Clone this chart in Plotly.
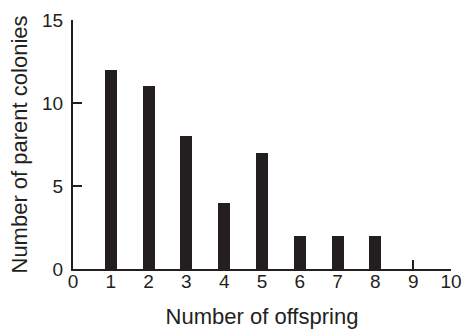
import plotly.graph_objects as go

offspring = [1, 2, 3, 4, 5, 6, 7, 8]
colonies = [12, 11, 8, 4, 7, 2, 2, 2]
x_ticks = [0, 1, 2, 3, 4, 5, 6, 7, 8, 9, 10]
y_ticks = [0, 5, 10, 15]

ink = "#231f20"
font = "Liberation Sans, Arial, sans-serif"

fig = go.Figure(go.Bar(x=offspring, y=colonies, width=0.32, marker=dict(color=ink, line=dict(width=0))))

fig.update_layout(
    width=462, height=329,
    margin=dict(l=73, r=11, t=20, b=60),
    plot_bgcolor="white", paper_bgcolor="white",
    font=dict(family=font, color=ink, size=19),
    showlegend=False,
    bargap=0,
)
fig.update_xaxes(
    range=[0, 10], tickvals=x_ticks, ticktext=[str(v) for v in x_ticks],
    showgrid=False, zeroline=False, showline=True, linecolor=ink, linewidth=2,
    ticks="inside", ticklen=9, tickwidth=2, tickcolor=ink,
    tickfont=dict(size=19), ticklabelstandoff=-6, automargin=False,
    title=dict(text="Number of offspring", font=dict(size=22), standoff=19),
)
fig.update_yaxes(
    range=[0, 15], tickvals=y_ticks,
    showgrid=False, zeroline=False, showline=True, linecolor=ink, linewidth=2,
    ticks="inside", ticklen=9, tickwidth=2, tickcolor=ink,
    tickfont=dict(size=19), ticklabelstandoff=4, automargin=False,
    title=dict(text="Number of parent colonies", font=dict(size=22), standoff=8),
)

fig.write_html(
    "out.html",
    config={"displayModeBar": False},
    post_script="document.body.style.margin='0';document.body.style.padding='0';",
)
